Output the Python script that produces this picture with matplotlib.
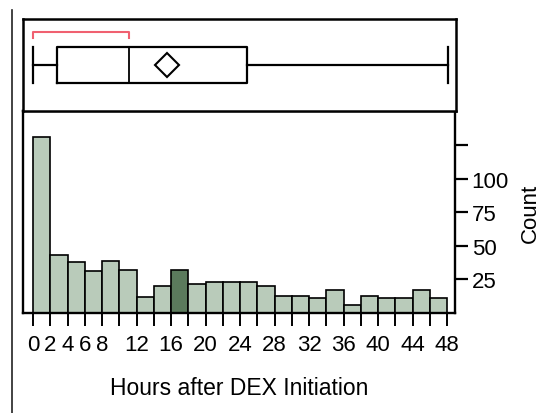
#!/usr/bin/env python3
# Distribution of hours after DEX initiation: outlier box plot over a histogram
import matplotlib
matplotlib.use('Agg')
import matplotlib.pyplot as plt
from matplotlib.lines import Line2D
import numpy as np

plt.rcParams['font.family'] = ['Liberation Sans', 'DejaVu Sans']

# histogram data: 2-hour bins from 0 to 48
bin_left = list(range(0, 48, 2))
counts = [131, 43, 38, 31, 39, 32, 12, 20, 32, 22, 23, 23,
          23, 20, 13, 13, 11, 17, 6, 13, 11, 11, 17, 11]
selected_bin = 8  # 16-18 h highlighted

# box plot summary (hours)
box_min, box_q1, box_med, box_q3, box_max = 0.0, 2.8, 11.1, 24.7, 48.0
box_mean = 15.5
shortest_half = (0.0, 11.1)

x_ticks = list(range(0, 49, 2))
x_labeled = [0, 2, 4, 6, 8, 12, 16, 20, 24, 28, 32, 36, 40, 44, 48]
y_ticks = [25, 50, 75, 100, 125]
y_labels = ['25', '50', '75', '100', '']

LIGHT = '#b9cbba'
DARK = '#5b7a5c'
W, H = 557, 414

fig = plt.figure(figsize=(W / 100, H / 100), dpi=100)
xlim = (-10 / 8.625, 48 + 8 / 8.625)

def fx(px): return px / W
def fy(py): return 1 - py / H

# ---- histogram ----
axh = fig.add_axes([fx(23), fy(314), fx(455) - fx(23), fy(112) - fy(314)])
cols = [DARK if i == selected_bin else LIGHT for i in range(len(counts))]
axh.bar(bin_left, counts, width=2, align='edge', color=cols,
        edgecolor='black', linewidth=1.2)
axh.set_xlim(*xlim)
axh.set_ylim(0, 150.7)
axh.set_xticks(x_ticks)
axh.set_xticklabels([str(t) if t in x_labeled else '' for t in x_ticks])
axh.yaxis.tick_right()
axh.yaxis.set_label_position('right')
axh.set_yticks(y_ticks)
axh.set_yticklabels(y_labels)
axh.tick_params(axis='x', length=9, width=1.4, labelsize=16, pad=6)
axh.tick_params(axis='y', length=9, width=1.6, labelsize=16, pad=3)
axh.set_xlabel('Hours after DEX Initiation', fontsize=16.5, labelpad=15)
axh.set_ylabel('Count', fontsize=16, labelpad=8)
for s in axh.spines.values():
    s.set_linewidth(1.7)

# ---- box plot ----
axb = fig.add_axes([fx(23), fy(112), fx(456) - fx(23), fy(20) - fy(112)])
stats = [dict(med=box_med, q1=box_q1, q3=box_q3, whislo=box_min,
              whishi=box_max, mean=box_mean, fliers=[])]
axb.bxp(stats, positions=[0.5], widths=0.39, capwidths=[0.39],
        orientation='horizontal', showmeans=True,
        boxprops=dict(color='black', linewidth=1.6),
        medianprops=dict(color='black', linewidth=1.3),
        whiskerprops=dict(color='black', linewidth=1.6),
        capprops=dict(color='black', linewidth=1.6),
        meanprops=dict(marker='D', markersize=12.5, markerfacecolor='white',
                       markeredgecolor='black', markeredgewidth=1.5))
# shortest-half bracket
axb.plot([shortest_half[0], shortest_half[0], shortest_half[1], shortest_half[1]],
         [0.79, 0.86, 0.86, 0.79], color='#f06070', linewidth=1.5)
axb.set_xlim(*xlim)
axb.set_ylim(0, 1)
axb.set_xticks([])
axb.set_yticks([])
for s in axb.spines.values():
    s.set_linewidth(1.8)

# left frame line of the report
fig.add_artist(Line2D([fx(12), fx(12)], [fy(11), 0], color='#222222',
                      linewidth=1.2))

fig.savefig('out.png', dpi=100)
